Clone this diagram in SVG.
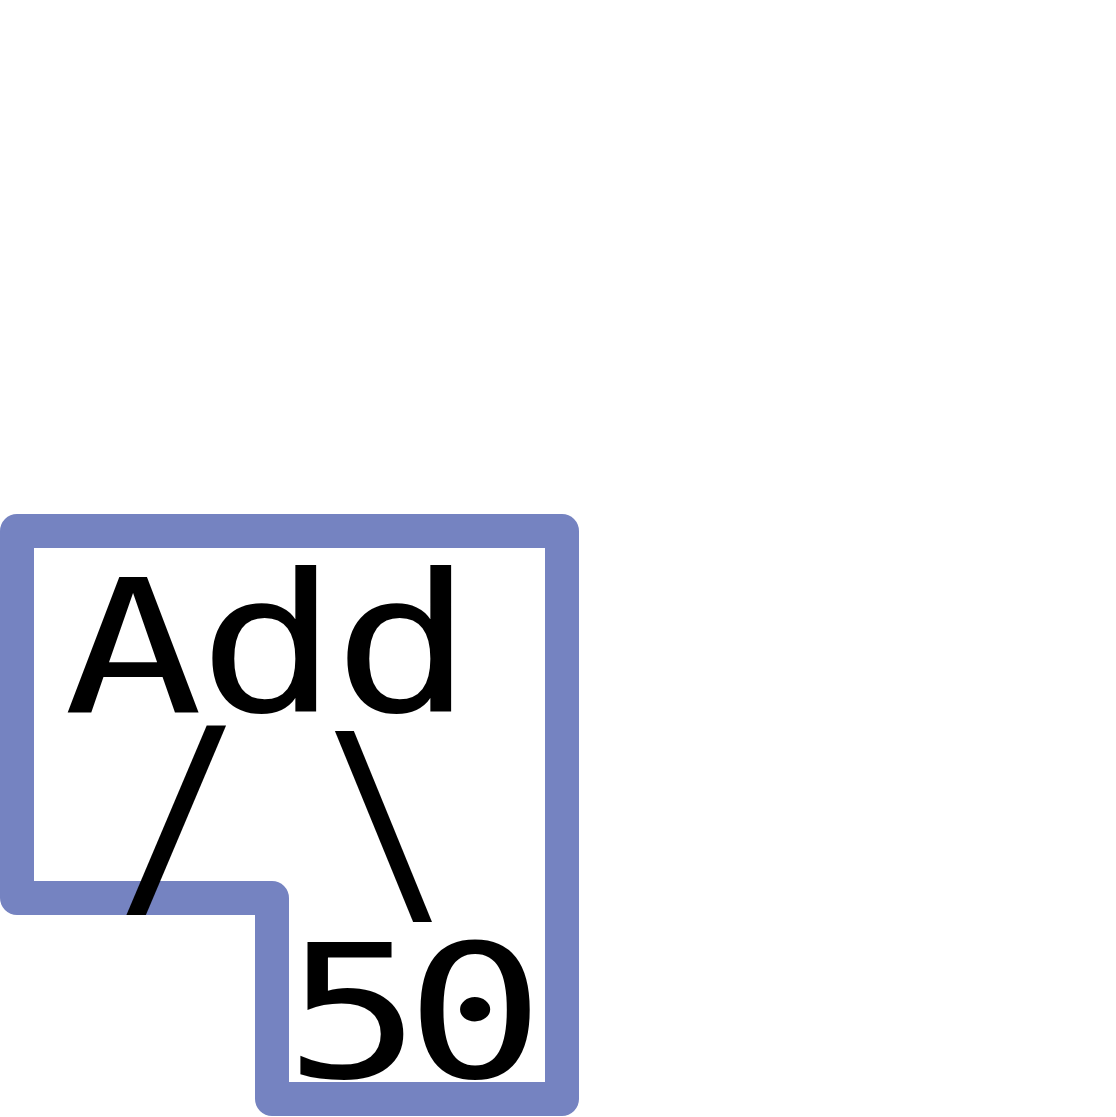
<svg xmlns="http://www.w3.org/2000/svg" width="1116" height="1117" viewBox="0 0 1116 1117">
<style>
.frame{fill:none;stroke:#7583c1;stroke-width:34;stroke-linejoin:round}
.t{font-family:"DejaVu Sans Mono","Liberation Mono",monospace;font-size:185px;fill:#000;text-anchor:middle}
</style>
<rect width="1116" height="1117" fill="#fff"/>
<g id="frame">
<path class="frame" d="M17,531 H562 V1099 H272 V898 H17 Z"/>
</g>
<g id="text">
<text class="t" transform="translate(133,712) scale(1.25,1)">A</text>
<text class="t" transform="translate(268,712) scale(1.25,1.04)">d</text>
<text class="t" transform="translate(403,712) scale(1.25,1.04)">d</text>
<text class="t" transform="translate(179,894) scale(1.13,1.24)">/</text>
<text class="t" transform="translate(386,900) scale(1.1,1.25)">\</text>
<text class="t" transform="translate(353,1077) scale(1.23,1)">5</text>
<text class="t" transform="translate(475,1077) scale(1.25,1)">0</text>
</g>
</svg>
